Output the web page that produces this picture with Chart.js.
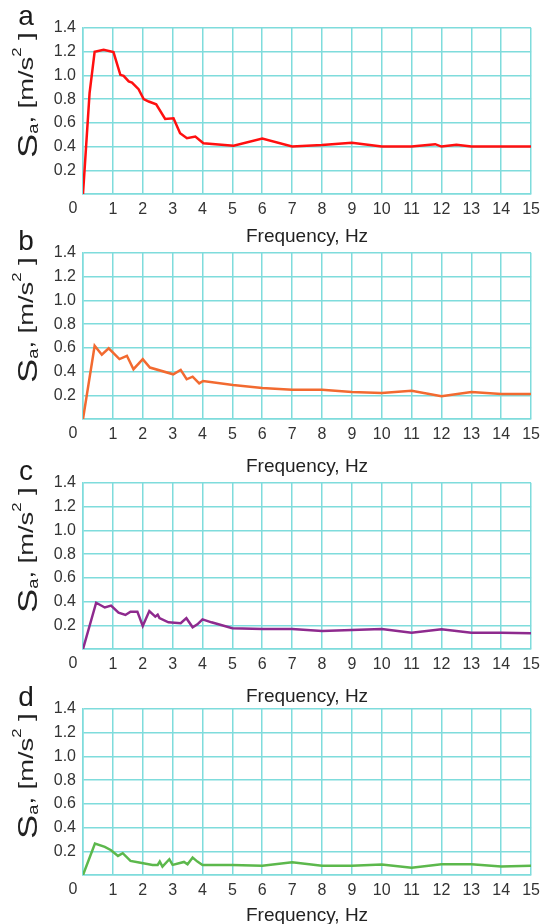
<!DOCTYPE html>
<html>
<head>
<meta charset="utf-8">
<script src="https://cdn.jsdelivr.net/npm/chart.js@4.4.1/dist/chart.umd.min.js"></script>
<style>
  html, body { margin: 0; padding: 0; background: #fff; overflow: hidden; }
  body { width: 546px; height: 924px; position: relative; }
  .panel { position: absolute; left: 0; width: 546px; height: 270px; }
</style>
</head>
<body>
<div class="panel" style="top:0px"><canvas id="chartA"></canvas></div>
<div class="panel" style="top:225px"><canvas id="chartB"></canvas></div>
<div class="panel" style="top:455px"><canvas id="chartC"></canvas></div>
<div class="panel" style="top:681px"><canvas id="chartD"></canvas></div>
<script>
  // Spectral acceleration Sa [m/s^2] vs frequency [Hz]
  const freqA = [0, 0.22, 0.39, 0.69, 1.02, 1.25, 1.36, 1.53, 1.64, 1.86, 2.03, 2.2, 2.45, 2.75, 3.03, 3.25, 3.48, 3.76, 4.03, 5.04, 6, 7, 8, 9, 10, 11, 11.79, 12, 12.5, 13, 15];
  const saA   = [0, 0.85, 1.20, 1.216, 1.197, 1.005, 0.997, 0.95, 0.94, 0.884, 0.80, 0.78, 0.757, 0.633, 0.639, 0.513, 0.47, 0.484, 0.428, 0.408, 0.467, 0.40, 0.413, 0.432, 0.40, 0.40, 0.42, 0.40, 0.415, 0.40, 0.40];

  const freqB = [0, 0.39, 0.63, 0.86, 1.22, 1.47, 1.69, 2.0, 2.24, 3.02, 3.27, 3.47, 3.67, 3.89, 4.02, 5.02, 6, 7, 8, 9, 10, 11, 12, 13, 14, 15];
  const saB   = [0, 0.618, 0.542, 0.596, 0.505, 0.533, 0.42, 0.505, 0.434, 0.377, 0.414, 0.335, 0.357, 0.30, 0.32, 0.287, 0.262, 0.247, 0.247, 0.228, 0.22, 0.239, 0.191, 0.228, 0.211, 0.211];

  const freqC = [0, 0.44, 0.73, 0.94, 1.19, 1.42, 1.59, 1.82, 2.0, 2.22, 2.42, 2.5, 2.56, 2.86, 3.27, 3.46, 3.67, 3.83, 4.0, 4.3, 5, 6, 7, 8, 9, 10, 11, 12, 13, 14, 15];
  const saC   = [0, 0.39, 0.35, 0.366, 0.307, 0.287, 0.315, 0.315, 0.194, 0.32, 0.273, 0.29, 0.26, 0.225, 0.217, 0.26, 0.183, 0.208, 0.25, 0.225, 0.175, 0.169, 0.169, 0.152, 0.16, 0.169, 0.138, 0.166, 0.138, 0.138, 0.132];

  const freqD = [0, 0.40, 0.73, 0.94, 1.17, 1.33, 1.59, 1.88, 2.33, 2.5, 2.57, 2.66, 2.89, 3.0, 3.38, 3.5, 3.67, 3.83, 4.0, 5, 6, 7, 8, 9, 10, 11, 12, 13, 14, 15];
  const saD   = [0, 0.266, 0.237, 0.209, 0.161, 0.184, 0.119, 0.105, 0.085, 0.085, 0.113, 0.071, 0.133, 0.085, 0.11, 0.09, 0.147, 0.113, 0.085, 0.085, 0.079, 0.107, 0.079, 0.079, 0.088, 0.062, 0.09, 0.09, 0.071, 0.079];

  const panelLetters = ['a', 'b', 'c', 'd'];
  const xTitle = 'Frequency, Hz';
  const xRange = [0, 15];
  const yRange = [0, 1.4];

  const gridColor = '#7fdcdc';
  const textColor = '#333333';

  // letter, axis titles and the lone "0" under the corner
  const decor = {
    id: 'decor',
    afterDraw(chart, args, opts) {
      const ctx = chart.ctx;
      const area = chart.chartArea;
      ctx.save();
      ctx.fillStyle = '#1a1a1a';
      ctx.textBaseline = 'alphabetic';
      ctx.textAlign = 'center';
      ctx.font = '28px Arial';
      ctx.fillText(opts.letter, 26, 25);

      ctx.font = '19px Arial';
      ctx.fillStyle = '#222';
      ctx.fillText(xTitle, (area.left + area.right) / 2, area.bottom + opts.titleGap);

      ctx.fillStyle = textColor;
      ctx.font = '16px Arial';
      ctx.textBaseline = 'middle';
      ctx.fillText('0', area.left - 10, area.bottom + 15);

      // rotated y title: S_a, [m/s^2 ]
      ctx.translate(37, area.top + 130);
      ctx.rotate(-Math.PI / 2);
      ctx.scale(1.3, 1);
      ctx.textAlign = 'left';
      ctx.textBaseline = 'alphabetic';
      ctx.fillStyle = '#222';
      const parts = [
        { t: 'S', f: 28, dy: 0 },
        { t: 'a', f: 14, dy: 1 },
        { t: ', ', f: 21, dy: -4 },
        { t: '[m/s', f: 21, dy: -4 },
        { t: '2', f: 13, dy: -16 },
        { t: ' ]', f: 21, dy: -4 }
      ];
      let x = 0;
      parts.forEach(p => {
        ctx.font = p.f + 'px Arial';
        ctx.fillText(p.t, x, p.dy);
        x += ctx.measureText(p.t).width;
      });
      ctx.restore();
    }
  };

  function makeChart(id, freq, sa, color, letter, titleGap) {
    const points = freq.map((f, i) => ({ x: f, y: sa[i] }));
    return new Chart(document.getElementById(id), {
      type: 'line',
      data: {
        datasets: [{
          data: points,
          borderColor: color,
          borderWidth: 2.5,
          pointRadius: 0,
          tension: 0,
          fill: false
        }]
      },
      options: {
        responsive: true,
        maintainAspectRatio: false,
        animation: false,
        layout: { padding: { top: 28, right: 13, left: 0, bottom: 0 } },
        plugins: {
          legend: { display: false },
          tooltip: { enabled: false },
          decor: { letter: letter, titleGap: titleGap }
        },
        scales: {
          x: {
            type: 'linear',
            min: xRange[0],
            max: xRange[1],
            afterFit: s => { s.height = 76; },
            ticks: {
              stepSize: 1,
              padding: 6,
              color: textColor,
              font: { family: 'Arial', size: 16 },
              maxRotation: 0,
              callback: v => (v === 0 ? '' : String(v))
            },
            grid: { color: gridColor, lineWidth: 1.5, drawTicks: false },
            border: { color: gridColor, width: 1.5 }
          },
          y: {
            min: yRange[0],
            max: yRange[1],
            afterFit: s => { s.width = 83; },
            ticks: {
              stepSize: 0.2,
              padding: 7,
              color: textColor,
              font: { family: 'Arial', size: 16 },
              callback: v => (Math.abs(v) < 1e-9 ? '' : Number(v).toFixed(1))
            },
            grid: { color: gridColor, lineWidth: 1.5, drawTicks: false },
            border: { color: gridColor, width: 1.5 }
          }
        }
      },
      plugins: [decor]
    });
  }

  makeChart('chartA', freqA, saA, '#ff1010', panelLetters[0], 48);
  makeChart('chartB', freqB, saB, '#f26a30', panelLetters[1], 53);
  makeChart('chartC', freqC, saC, '#8e2a8e', panelLetters[2], 53);
  makeChart('chartD', freqD, saD, '#5cb84c', panelLetters[3], 46);
</script>
</body>
</html>
